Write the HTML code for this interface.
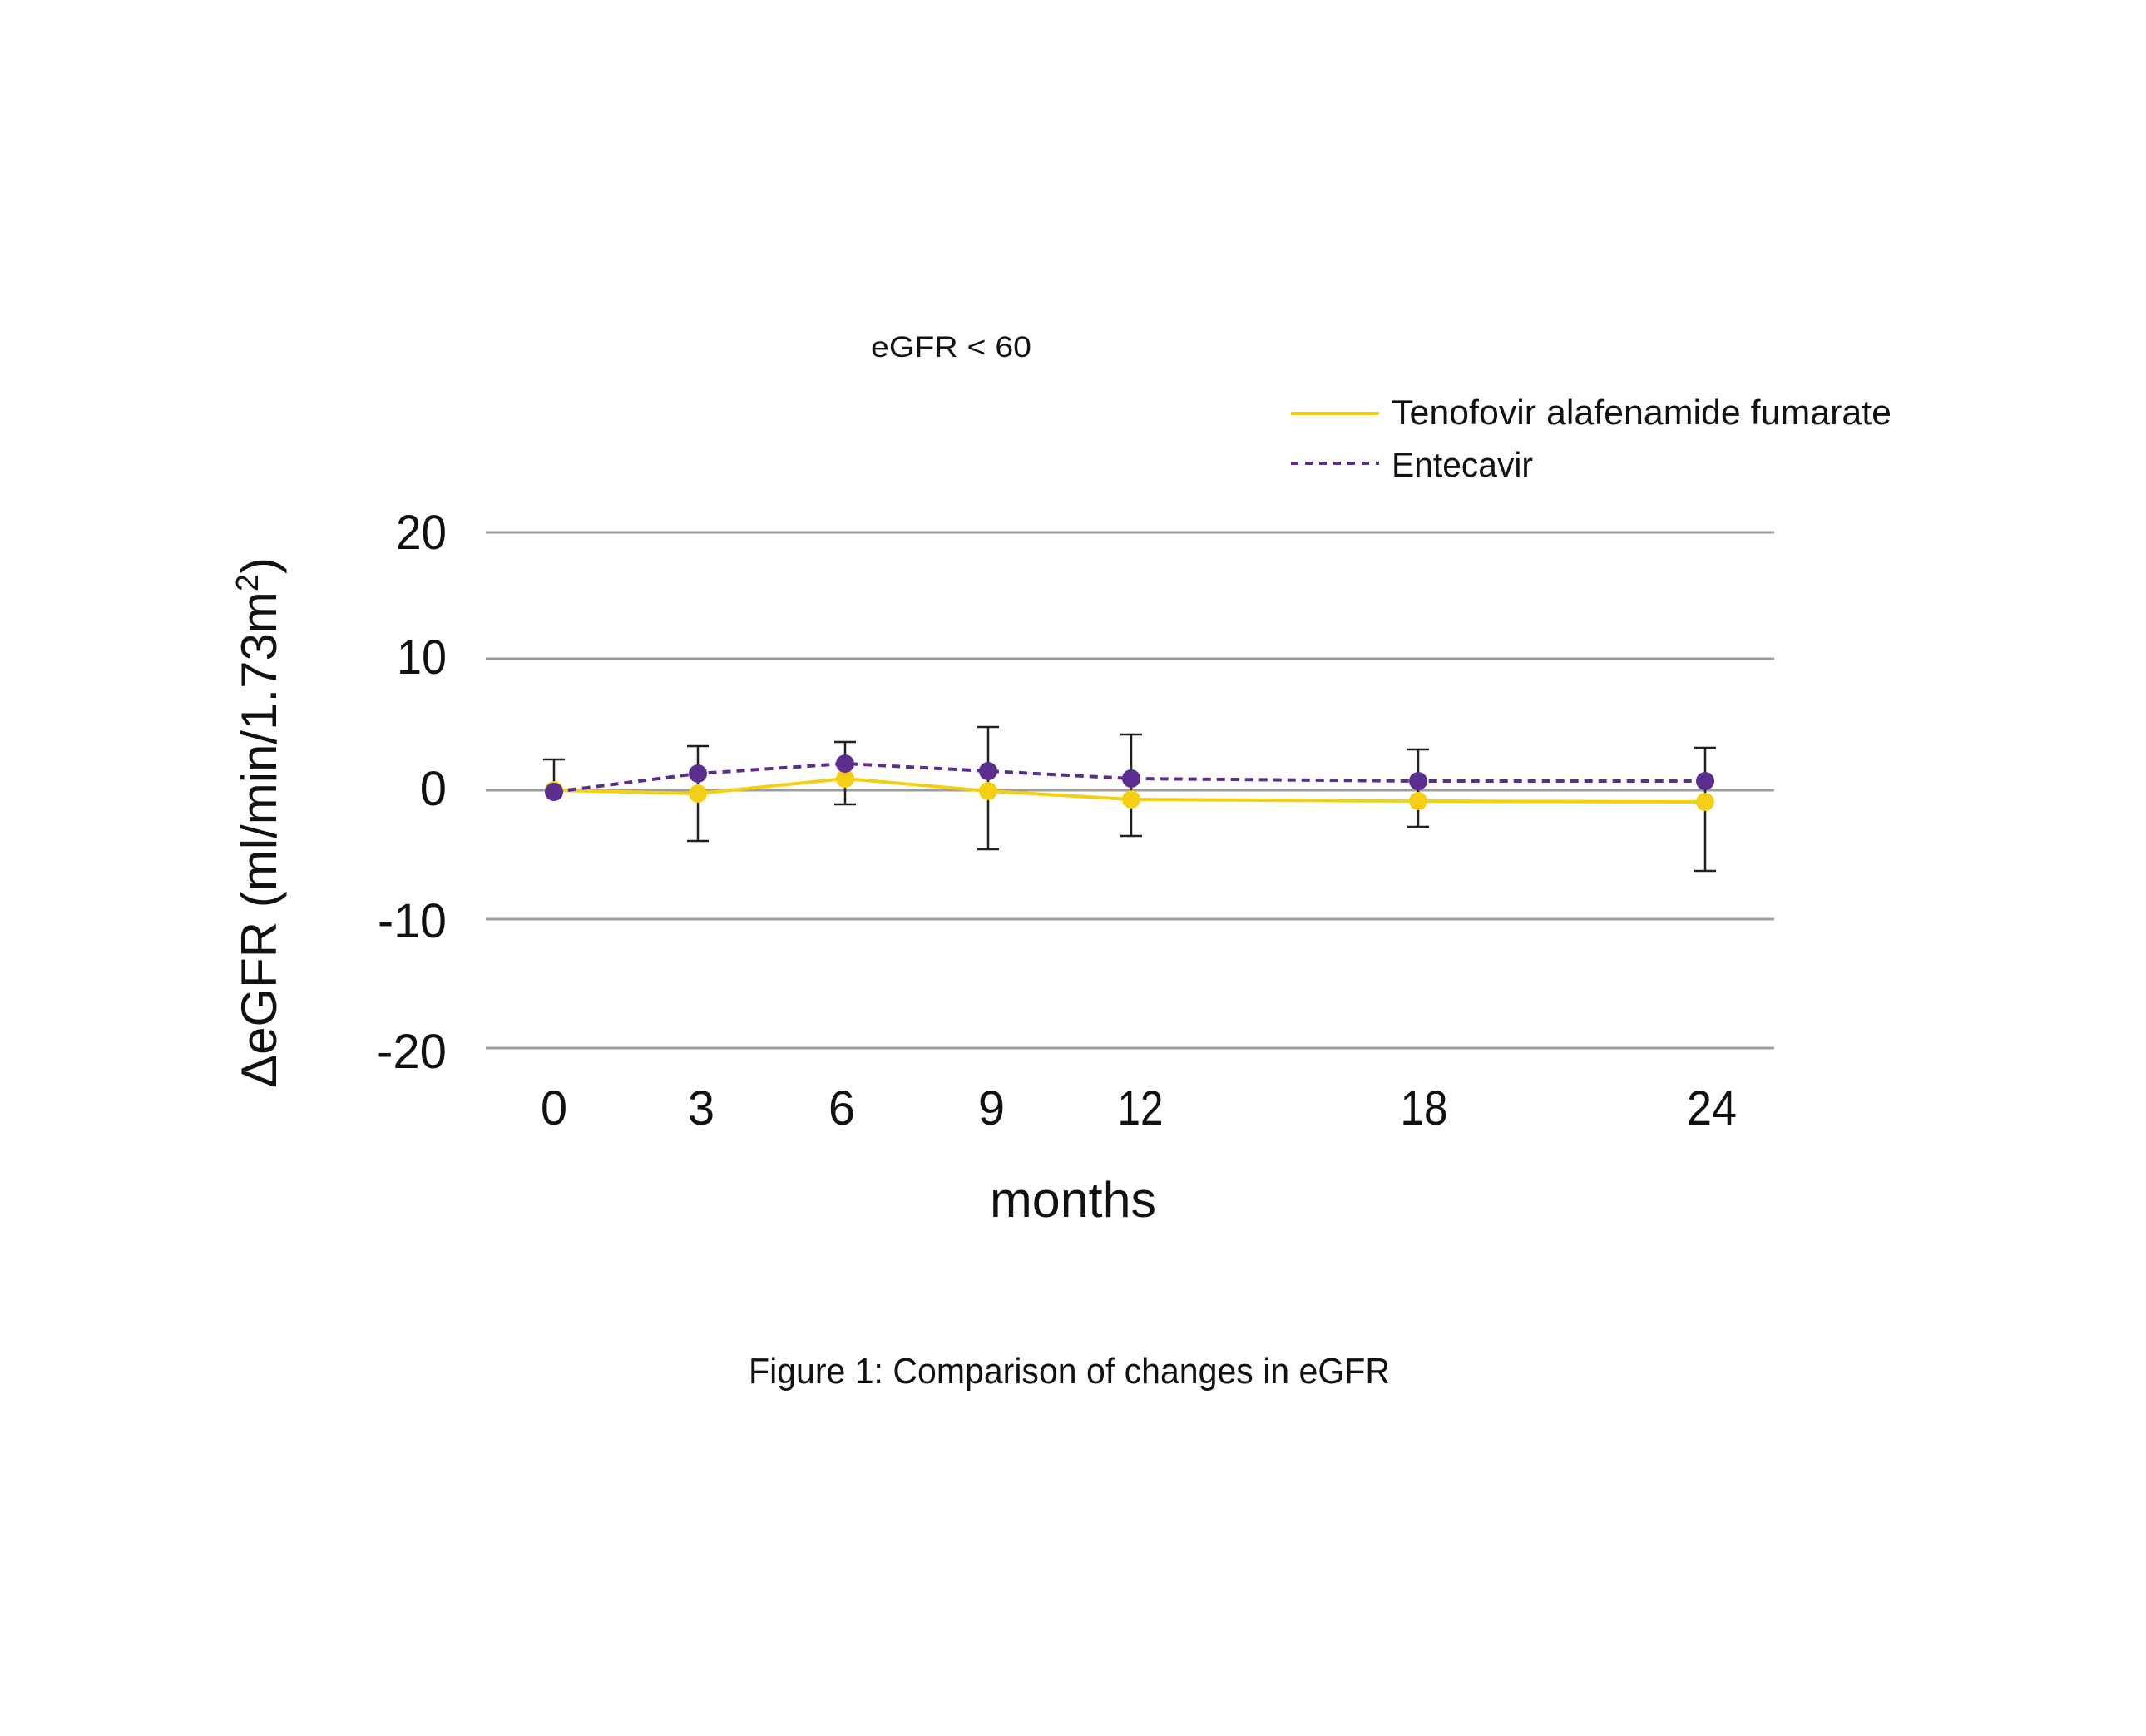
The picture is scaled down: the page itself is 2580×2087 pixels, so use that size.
<!DOCTYPE html>
<html>
<head>
<meta charset="utf-8">
<style>
  html, body { margin:0; padding:0; background:#ffffff; }
  svg { display:block; }
  text { font-family: "Liberation Sans", "DejaVu Sans", sans-serif; fill:#111111; }
</style>
</head>
<body>
<svg width="2580" height="2087" viewBox="0 0 2580 2087" xmlns="http://www.w3.org/2000/svg">
  <rect x="0" y="0" width="2580" height="2087" fill="#ffffff"/>

  <!-- Title -->
  <text x="1047" y="429" font-size="35" textLength="193" lengthAdjust="spacingAndGlyphs">eGFR &lt; 60</text>

  <!-- Legend -->
  <line x1="1552" y1="497" x2="1658" y2="497" stroke="#f5cf14" stroke-width="4"/>
  <text x="1673" y="510" font-size="42" textLength="601" lengthAdjust="spacingAndGlyphs">Tenofovir alafenamide fumarate</text>
  <line x1="1552" y1="557" x2="1658" y2="557" stroke="#5b2d8e" stroke-width="4" stroke-dasharray="9 8"/>
  <text x="1673" y="573" font-size="42" textLength="170" lengthAdjust="spacingAndGlyphs">Entecavir</text>

  <!-- Gridlines -->
  <g stroke="#9d9d9d" stroke-width="3">
    <line x1="584" y1="640" x2="2133" y2="640"/>
    <line x1="584" y1="792" x2="2133" y2="792"/>
    <line x1="584" y1="950" x2="2133" y2="950"/>
    <line x1="584" y1="1105" x2="2133" y2="1105"/>
    <line x1="584" y1="1260" x2="2133" y2="1260"/>
  </g>

  <!-- Y tick labels -->
  <g font-size="58" text-anchor="end">
    <text x="537" y="660" textLength="61" lengthAdjust="spacingAndGlyphs">20</text>
    <text x="537" y="810" textLength="60" lengthAdjust="spacingAndGlyphs">10</text>
    <text x="537" y="968">0</text>
    <text x="537" y="1127" textLength="83" lengthAdjust="spacingAndGlyphs">-10</text>
    <text x="537" y="1284" textLength="84" lengthAdjust="spacingAndGlyphs">-20</text>
  </g>

  <!-- Y axis title -->
  <text transform="translate(332,1308) rotate(-90)" x="0" y="0" font-size="60" textLength="638" lengthAdjust="spacingAndGlyphs">ΔeGFR (ml/min/1.73m<tspan dy="-22" font-size="38">2</tspan><tspan dy="22">)</tspan></text>

  <!-- X tick labels -->
  <g font-size="58" text-anchor="middle">
    <text x="666" y="1352">0</text>
    <text x="843" y="1352">3</text>
    <text x="1012" y="1352">6</text>
    <text x="1192" y="1352">9</text>
    <text x="1371" y="1352" textLength="55" lengthAdjust="spacingAndGlyphs">12</text>
    <text x="1712" y="1352" textLength="57" lengthAdjust="spacingAndGlyphs">18</text>
    <text x="2058" y="1352" textLength="60" lengthAdjust="spacingAndGlyphs">24</text>
  </g>

  <!-- X axis title -->
  <text x="1190" y="1463" font-size="60" textLength="200" lengthAdjust="spacingAndGlyphs">months</text>

  <!-- Error bars -->
  <g stroke="#231f20" stroke-width="2.5" fill="none">
    <line x1="666" y1="913" x2="666" y2="952"/>
    <line x1="653" y1="913" x2="679" y2="913"/>

    <line x1="839" y1="897" x2="839" y2="1011"/>
    <line x1="826" y1="897" x2="852" y2="897"/>
    <line x1="826" y1="1011" x2="852" y2="1011"/>

    <line x1="1016" y1="892" x2="1016" y2="967"/>
    <line x1="1003" y1="892" x2="1029" y2="892"/>
    <line x1="1003" y1="967" x2="1029" y2="967"/>

    <line x1="1188" y1="874" x2="1188" y2="1021"/>
    <line x1="1175" y1="874" x2="1201" y2="874"/>
    <line x1="1175" y1="1021" x2="1201" y2="1021"/>

    <line x1="1360" y1="883" x2="1360" y2="1005"/>
    <line x1="1347" y1="883" x2="1373" y2="883"/>
    <line x1="1347" y1="1005" x2="1373" y2="1005"/>

    <line x1="1705" y1="901" x2="1705" y2="994"/>
    <line x1="1692" y1="901" x2="1718" y2="901"/>
    <line x1="1692" y1="994" x2="1718" y2="994"/>

    <line x1="2050" y1="899" x2="2050" y2="1047"/>
    <line x1="2037" y1="899" x2="2063" y2="899"/>
    <line x1="2037" y1="1047" x2="2063" y2="1047"/>
  </g>

  <!-- Tenofovir line -->
  <polyline points="666,950 839,954 1016,936 1188,951 1360,961 1705,963 2050,964" fill="none" stroke="#f5cf14" stroke-width="4" stroke-linejoin="round"/>
  <!-- Entecavir line -->
  <polyline points="666,952 839,930 1016,918 1188,927 1360,936 1705,939 2050,939" fill="none" stroke="#5b2d8e" stroke-width="4" stroke-dasharray="10 7"/>

  <!-- Tenofovir markers -->
  <g fill="#f5cf14">
    <circle cx="666" cy="950" r="11"/>
    <circle cx="839" cy="954" r="11"/>
    <circle cx="1016" cy="936" r="11"/>
    <circle cx="1188" cy="951" r="11"/>
    <circle cx="1360" cy="961" r="11"/>
    <circle cx="1705" cy="963" r="11"/>
    <circle cx="2050" cy="964" r="11"/>
  </g>
  <!-- Entecavir markers -->
  <g fill="#5b2d8e">
    <circle cx="666" cy="952" r="11"/>
    <circle cx="839" cy="930" r="11"/>
    <circle cx="1016" cy="918" r="11"/>
    <circle cx="1188" cy="927" r="11"/>
    <circle cx="1360" cy="936" r="11"/>
    <circle cx="1705" cy="939" r="11"/>
    <circle cx="2050" cy="939" r="11"/>
  </g>

  <!-- Caption -->
  <text x="900" y="1663" font-size="44" textLength="771" lengthAdjust="spacingAndGlyphs">Figure 1: Comparison of changes in eGFR</text>
</svg>
</body>
</html>
